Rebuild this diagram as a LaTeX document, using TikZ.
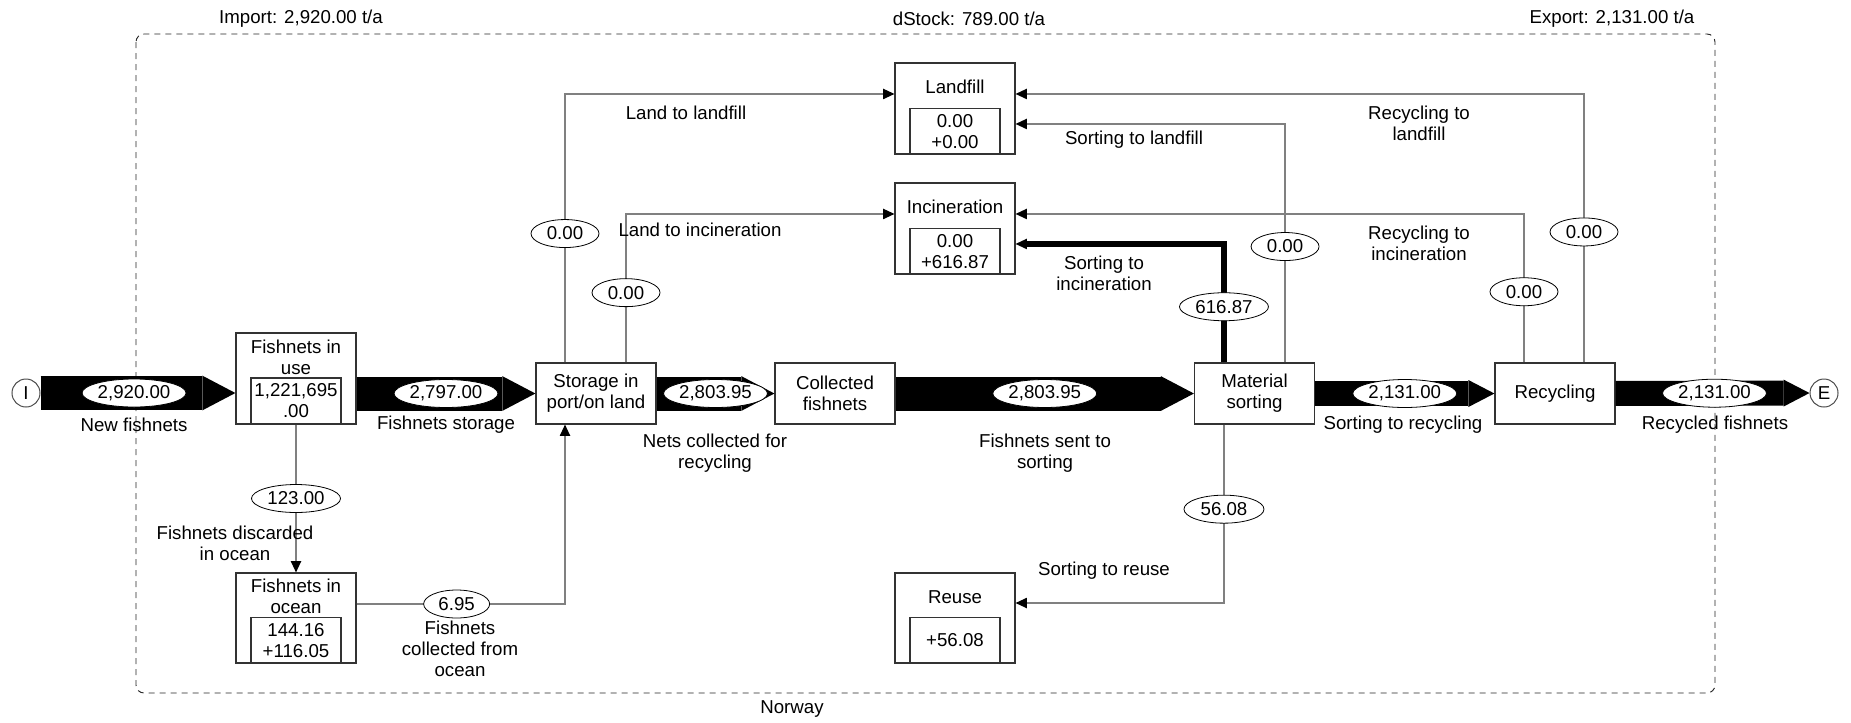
\documentclass[tikz,border=0pt]{standalone}
\usepackage{fontspec}
\setmainfont{Liberation Sans}
\usetikzlibrary{arrows.meta, shapes.geometric}
\tikzset{
  box/.style={draw=black!80, line width=0.9pt, fill=white, minimum width=90pt, inner sep=0pt, align=center},
  stock/.style={draw=black!80, line width=0.9pt, minimum width=67.5pt, minimum height=34.5pt, inner sep=0pt, align=center},
  conn/.style={draw=black!50, line width=1.1pt, -{Triangle[length=8.5pt, width=8pt, color=black, line width=0pt]}},
  thickconn/.style={draw=black, line width=4.5pt, -{Triangle[length=8.5pt, width=8pt, line width=0pt]}},
  flowwide/.style={draw=black, line width=25.5pt, -{Triangle[length=24.75pt, width=26pt, line width=0pt]}},
  flownarrow/.style={draw=black, line width=18.75pt, -{Triangle[length=19.5pt, width=20.25pt, line width=0pt]}},
  val/.style={ellipse, draw=black, line width=0.6pt, fill=white, inner sep=0pt, minimum height=21pt, minimum width=#1},
  val/.default=51pt,
  lbl/.style={align=center, inner sep=0pt},
  ends/.style={circle, draw=black!70, line width=0.75pt, minimum size=21pt, inner sep=0pt},
  frame/.style={draw=black!85, line width=0.7pt, dash pattern=on 4.5pt off 3.75pt, rounded corners=6pt}
}
\begin{document}
\begin{tikzpicture}[x=0.75pt, y=-0.75pt, every node/.style={font=\fontsize{14}{15.75}\selectfont}]
    \useasboundingbox (0,0) rectangle (1851,722);
    \draw[frame] (136,34) rectangle (1715,693);

    \node[box, minimum height=68.25pt] (use) at (296,378.5) {};
    \node[stock] (useS) at (296,401) {1,221,695\\.00};
    \node[lbl] (useT) at (296,357) {Fishnets in\\use};
    \node[box, minimum height=67.5pt] (ocean) at (296,618) {};
    \node[stock] (oceanS) at (296,640.5) {144.16\\+116.05};
    \node[lbl] (oceanT) at (296,596.5) {Fishnets in\\ocean};
    \node[box, minimum height=45.75pt] (store) at (596,393.5) {Storage in\\port/on land};
    \node[box, minimum height=45.75pt] (collected) at (835,393.5) {Collected\\fishnets};
    \node[box, minimum height=45.75pt] (sorting) at (1254.5,393.5) {Material\\sorting};
    \node[box, minimum height=45.75pt] (recyc) at (1555,393.5) {Recycling};
    \node[box, minimum height=68.25pt] (landfill) at (955,108.5) {};
    \node[stock] (landfillS) at (955,131.5) {0.00\\+0.00};
    \node[lbl] (landfillT) at (955,87) {Landfill};
    \node[box, minimum height=68.25pt] (incin) at (955,228.5) {};
    \node[stock] (incinS) at (955,251.5) {0.00\\+616.87};
    \node[lbl] (incinT) at (955,207) {Incineration};
    \node[box, minimum height=67.5pt] (reuse) at (955,618) {};
    \node[stock] (reuseS) at (955,640.5) {+56.08};
    \node[lbl] (reuseT) at (955,597) {Reuse};
    \node[ends] (I) at (26,393) {I};
    \node[ends] (E) at (1824,393) {E};

    \draw[flowwide] (I) -- (I -| use.west) node[val=78pt, pos=0.48] (vNew) {2,920.00};
    \draw[flowwide] (use.east |- store) -- (store.west) node[val=78pt, midway] (vStore) {2,797.00};
    \draw[flowwide] (store) -- (collected) node[val=78pt, midway] (vColl) {2,803.95};
    \draw[flowwide] (collected) -- (sorting) node[val=78pt, midway] (vSort) {2,803.95};
    \draw[flownarrow] (sorting) -- (recyc) node[val=78pt, midway] (vRecyc) {2,131.00};
    \draw[flownarrow] (recyc) -- (E) node[val=78pt, pos=0.51] (vExp) {2,131.00};
    \node[lbl] (lNew) at (134,425) {New fishnets};
    \node[lbl] (lStore) at (446,425) {Fishnets storage};
    \node[lbl] (lColl) at (715,453) {Nets collected for\\recycling};
    \node[lbl] (lSort) at (1045,453) {Fishnets sent to\\sorting};
    \node[lbl] (lRecyc) at (1403,425) {Sorting to recycling};
    \node[lbl] (lExp) at (1715,425) {Recycled fishnets};

    \draw[conn] (use) -- (ocean) node[val=66.75pt, pos=0.5] (vDisc) {123.00};
    \node[lbl] (lDisc) at (235,543.5) {Fishnets discarded\\in ocean};
    \draw[conn] ([yshift=10.5pt]ocean.east) -| ([xshift=-23.25pt]store.south) node[val=49.5pt, pos=0.24] (vOcean) {6.95};
    \node[lbl] (lOcean) at (460,649) {Fishnets\\collected from\\ocean};
    \draw[conn] ([xshift=-23.25pt]store.north) |- ([yshift=10.9pt]landfill.west) node[val, pos=0.24] (vLandLf) {0.00};
    \node[lbl] (lLandLf) at (686,113) {Land to landfill};
    \draw[conn] ([xshift=22.5pt]store.north) |- ([yshift=10.9pt]incin.west) node[val, pos=0.235] (vLandInc) {0.00};
    \node[lbl] (lLandInc) at (700,230) {Land to incineration};
    \draw[conn] ([xshift=22.9pt]sorting.north) |- ([yshift=-11.6pt]landfill.east) node[val, pos=0.243] (vSortLf) {0.00};
    \node[lbl] (lSortLf) at (1134,140) {Sorting to landfill};
    \draw[thickconn] ([xshift=-22.9pt]sorting.north) |- ([yshift=-11.6pt]incin.east) node[val=66.75pt, pos=0.235] (vSortInc) {616.87};
    \node[lbl] (lSortInc) at (1104,273) {Sorting to\\incineration};
    \draw[conn] ([xshift=-22.9pt]sorting.south) |- ([yshift=11.25pt]reuse.east) node[val=60pt, pos=0.237] (vReuse) {56.08};
    \node[lbl] (lReuse) at (1104,571) {Sorting to reuse};
    \draw[conn] ([xshift=21.75pt]recyc.north) |- ([yshift=10.9pt]landfill.east) node[val, pos=0.243] (vRecLf) {0.00};
    \node[lbl] (lRecLf) at (1419,123.5) {Recycling to\\landfill};
    \draw[conn] ([xshift=-23.25pt]recyc.north) |- ([yshift=10.9pt]incin.east) node[val, pos=0.238] (vRecInc) {0.00};
    \node[lbl] (lRecInc) at (1419,243.5) {Recycling to\\incineration};

    \node[lbl] (imp) at (301,19) {Import: 2,920.00 t/a};
    \node[lbl] (dst) at (969,19) {dStock: 789.00 t/a};
    \node[lbl] (exp) at (1612,19) {Export: 2,131.00 t/a};
    \node[lbl] (nor) at (792,709) {Norway};
\end{tikzpicture}
\end{document}
